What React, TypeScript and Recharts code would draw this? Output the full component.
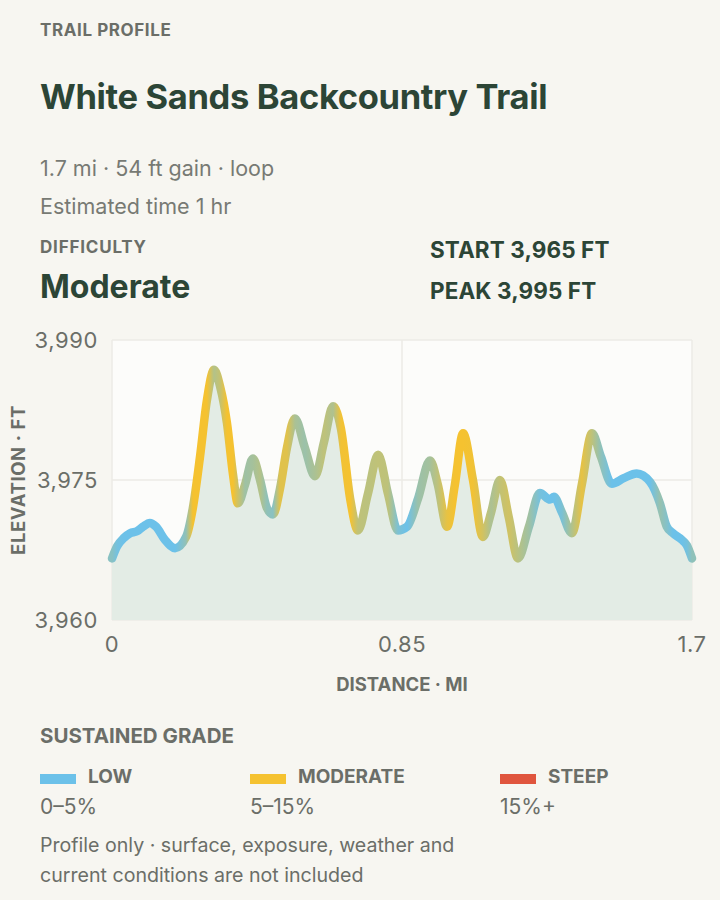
import React from "react";
import {
  ComposedChart,
  Area,
  XAxis,
  YAxis,
  CartesianGrid,
  Label,
} from "recharts";

document.body.style.margin = "0";
document.body.style.background = "#f7f6f1";

// distance along trail (mi) and elevation (ft)
const distance = [
  0, 0.015, 0.035, 0.053, 0.073, 0.091, 0.111, 0.129, 0.155, 0.185, 0.217,
  0.237, 0.258, 0.278, 0.299, 0.317, 0.337, 0.355, 0.369, 0.39, 0.413, 0.434,
  0.454, 0.472, 0.492, 0.513, 0.536, 0.565, 0.595, 0.621, 0.648, 0.671, 0.698,
  0.721, 0.75, 0.78, 0.809, 0.838, 0.865, 0.897, 0.932, 0.955, 0.982, 1.005,
  1.029, 1.058, 1.087, 1.111, 1.137, 1.163, 1.19, 1.222, 1.254, 1.284, 1.295,
  1.319, 1.348, 1.377, 1.407, 1.433, 1.465, 1.5, 1.538, 1.577, 1.606, 1.626,
  1.644, 1.67, 1.685, 1.7,
];
const elevation = [
  3966.6, 3967.9, 3968.8, 3969.3, 3969.5, 3970.0, 3970.4, 3970.0, 3968.6,
  3967.7, 3968.9, 3972.0, 3977.5, 3983.5, 3986.8, 3985.0, 3981.1, 3975.5,
  3972.5, 3974.5, 3977.3, 3975.0, 3972.0, 3971.3, 3974.0, 3978.5, 3981.6,
  3978.5, 3975.4, 3979.0, 3982.9, 3980.5, 3973.0, 3969.6, 3973.5, 3977.7,
  3973.5, 3969.6, 3970.0, 3973.0, 3977.1, 3974.5, 3970.0, 3974.5, 3980.0,
  3975.0, 3968.9, 3971.5, 3975.0, 3971.0, 3966.6, 3970.0, 3973.6, 3972.9,
  3973.2, 3971.5, 3969.3, 3974.5, 3980.0, 3977.5, 3974.6, 3975.2, 3975.7,
  3974.8, 3972.5, 3970.0, 3969.3, 3968.6, 3968.0, 3966.6,
];
const xTicks = [0, 0.85, 1.7];
const yTicks = [3960, 3975, 3990];

const bandNames = ["LOW", "MODERATE", "STEEP"];
const bandRanges = ["0–5%", "5–15%", "15%+"];
const bandColors = ["#6cc1e9", "#f5c230", "#e0553e"];
const legendLeft = [40, 250, 500];

const data = distance.map((d, i) => ({ d, elev: elevation[i] }));

// grade (%) at each point = mean of neighbouring segment grades
const segGrade = (i: number) =>
  (Math.abs(elevation[i + 1] - elevation[i]) /
    ((distance[i + 1] - distance[i]) * 5280)) *
  100;
const pointGrade = (i: number) => {
  const g: number[] = [];
  if (i > 0) g.push(segGrade(i - 1));
  if (i < distance.length - 1) g.push(segGrade(i));
  return g.reduce((a, b) => a + b, 0) / g.length;
};
const hex = (c: string) => [1, 3, 5].map((k) => parseInt(c.slice(k, k + 2), 16));
const mix = (a: string, b: string, t: number) => {
  const A = hex(a);
  const B = hex(b);
  return `rgb(${A.map((v, k) => Math.round(v + (B[k] - v) * t)).join(",")})`;
};
const pointColor = (i: number) => {
  const t = Math.max(0, Math.min(1, (pointGrade(i) - 1.1) / 2.6));
  return mix(bandColors[0], bandColors[1], t);
};

const gray = "#6b6e68";
const green = "#2c4536";
const font = "Inter, 'Noto Sans', sans-serif";

const txt = (
  top: number,
  left: number,
  size: number,
  weight: number,
  color: string,
  extra: any = {}
): React.CSSProperties => ({
  position: "absolute",
  top,
  left,
  fontSize: size,
  fontWeight: weight,
  color,
  lineHeight: `${size}px`,
  whiteSpace: "nowrap",
  ...extra,
});

export default function App() {
  return (
    <div
      style={{
        position: "relative",
        width: 720,
        height: 900,
        background: "#f7f6f1",
        fontFamily: font,
        overflow: "hidden",
      }}
    >
      <div style={txt(22, 40, 17, 700, gray, { letterSpacing: 0.6 })}>
        TRAIL PROFILE
      </div>
      <div style={txt(80, 40, 34.5, 700, green, { letterSpacing: -0.35 })}>
        White Sands Backcountry Trail
      </div>
      <div style={txt(158, 40, 21.5, 400, "#777a74")}>
        1.7 mi · 54 ft gain · loop
      </div>
      <div style={txt(196, 40, 21.5, 400, "#777a74")}>Estimated time 1 hr</div>
      <div style={txt(239, 40, 17, 700, gray, { letterSpacing: 0.8 })}>
        DIFFICULTY
      </div>
      <div style={txt(271, 40, 32, 700, green)}>Moderate</div>
      <div style={txt(239, 430, 22.5, 700, green, { letterSpacing: 0.1 })}>
        START 3,965 FT
      </div>
      <div style={txt(280, 430, 22.5, 700, green, { letterSpacing: 0.1 })}>
        PEAK 3,995 FT
      </div>

      <div style={{ position: "absolute", top: 320, left: 0 }}>
        <ComposedChart
          width={720}
          height={380}
          data={data}
          margin={{ top: 20, right: 28, left: 0, bottom: 0 }}
        >
          <defs>
            <linearGradient id="gradeStroke" x1="0" y1="0" x2="1" y2="0">
              {data.map((p, i) => (
                <stop
                  key={i}
                  offset={`${(p.d / 1.7) * 100}%`}
                  stopColor={pointColor(i)}
                />
              ))}
            </linearGradient>
          </defs>
          <CartesianGrid
            stroke="#ecebe6"
            strokeWidth={1.5}
            fill="#fcfcfa"
            fillOpacity={1}
          />
          <XAxis
            dataKey="d"
            type="number"
            domain={[0, 1.7]}
            ticks={xTicks}
            tickFormatter={(v: number) => String(v)}
            axisLine={false}
            tickLine={false}
            tickMargin={10}
            height={80}
            tick={{ fill: gray, fontSize: 22, fontFamily: font, letterSpacing: 0.5 }}
          >
            <Label
              value="DISTANCE · MI"
              position="insideBottom"
              offset={9}
              fill={gray}
              fontSize={18.5}
              fontWeight={700}
              fontFamily={font}
            />
          </XAxis>
          <YAxis
            type="number"
            domain={[3960, 3990]}
            ticks={yTicks}
            tickFormatter={(v: number) => v.toLocaleString("en-US")}
            axisLine={false}
            tickLine={false}
            tickMargin={8}
            width={112}
            tick={{ fill: gray, fontSize: 22, fontFamily: font, letterSpacing: 0.6 }}
          >
            <Label
              content={(props: any) => {
                const vb = props.viewBox;
                const cx = vb.x + 18;
                const cy = vb.y + vb.height / 2;
                return (
                  <text
                    x={cx}
                    y={cy}
                    transform={`rotate(-90 ${cx} ${cy})`}
                    textAnchor="middle"
                    dominantBaseline="central"
                    fill={gray}
                    fontSize={18.5}
                    fontWeight={700}
                    fontFamily={font}
                    letterSpacing={0.6}
                  >
                    ELEVATION · FT
                  </text>
                );
              }}
            />
          </YAxis>
          <Area
            type="monotone"
            dataKey="elev"
            baseValue={3960}
            stroke="url(#gradeStroke)"
            strokeWidth={8.5}
            strokeLinecap="round"
            strokeLinejoin="round"
            fill="#e3ece5"
            fillOpacity={1}
            dot={false}
            activeDot={false}
            isAnimationActive={false}
          />
        </ComposedChart>
      </div>

      <div style={txt(726, 40, 20.5, 700, gray)}>SUSTAINED GRADE</div>
      {bandNames.map((name, i) => (
        <React.Fragment key={name}>
          <div
            style={{
              position: "absolute",
              top: 774,
              left: legendLeft[i],
              width: 36,
              height: 10,
              background: bandColors[i],
            }}
          />
          <div style={txt(767, legendLeft[i] + 48, 19, 700, gray)}>{name}</div>
          <div style={txt(796, legendLeft[i], 21, 400, gray)}>
            {bandRanges[i]}
          </div>
        </React.Fragment>
      ))}
      <div
        style={{
          position: "absolute",
          top: 830,
          left: 40,
          width: 450,
          fontSize: 19.6,
          lineHeight: "30px",
          color: gray,
        }}
      >
        Profile only · surface, exposure, weather and current conditions are not
        included
      </div>
    </div>
  );
}
